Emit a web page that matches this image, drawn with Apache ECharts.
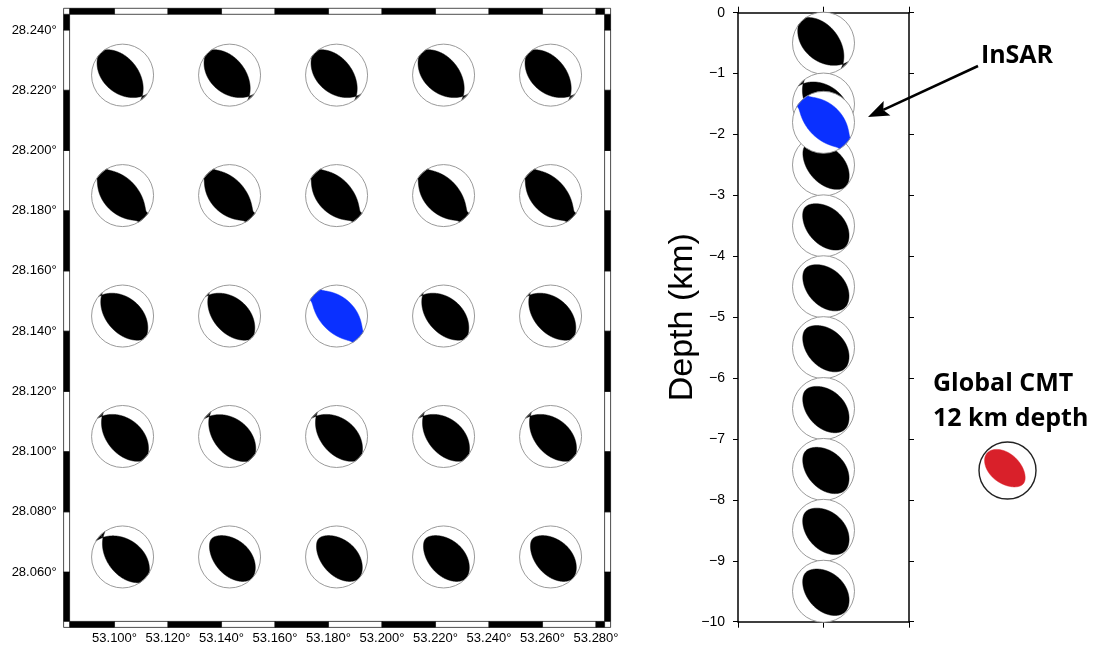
<!DOCTYPE html>
<html>
<head>
<meta charset="utf-8">
<script src="https://cdn.jsdelivr.net/npm/echarts@6/dist/echarts.min.js"></script>
<style>
html, body { margin: 0; padding: 0; background: #fff; }
#chart { width: 1096px; height: 647px; }
</style>
</head>
<body>
<div id="chart"></div>
<script>
// map panel: ticks and extent (degrees)
var lonTicks = [53.10, 53.12, 53.14, 53.16, 53.18, 53.20, 53.22, 53.24, 53.26, 53.28];
var latTicks = [28.06, 28.08, 28.10, 28.12, 28.14, 28.16, 28.18, 28.20, 28.22, 28.24];
var lonRange = [53.0832, 53.2832];
var latRange = [28.0436, 28.2452];

// grid search positions
var ballLons = [53.103, 53.143, 53.183, 53.223, 53.263];
var ballLats = [28.225, 28.185, 28.145, 28.105, 28.065];

// mechanism of every grid node (rows north -> south), given by its B (null) axis:
// trend, plunge, rotation of T/P about B, and the B and P eigenvalues (T = 1)
var mapTrend = [
    [137, 137, 137, 137, 137],
    [137, 137, 137, 137, 137],
    [315, 315, null, 315, 315],
    [315, 315, 315, 315, 315],
    [315, 315, 315, 315, 315]
];
var mapPlunge = [
    [8, 8, 8, 8, 8],
    [3, 3, 3, 3, 3],
    [5, 5, null, 5, 5],
    [8, 9, 8, 8, 8],
    [12, 9, 9, 9, 9]
];
var mapRot = [
    [4, 4, 4, 4, 4],
    [4, 4, 4, 4, 4],
    [4, 4, null, 4, 4],
    [4, 4, 4, 4, 4],
    [4, 4, 4, 4, 4]
];
var mapB = [
    [0, 0, 0, 0, 0],
    [-0.04, -0.04, -0.04, -0.04, -0.04],
    [0, 0, null, 0, 0],
    [0, 0, 0, 0, 0],
    [0, 0.03, 0.03, 0.03, 0.03]
];
var mapP = [
    [0.88, 0.88, 0.88, 0.88, 0.88],
    [0.88, 0.88, 0.88, 0.88, 0.88],
    [0.88, 0.88, null, 0.88, 0.88],
    [0.88, 0.88, 0.88, 0.88, 0.88],
    [0.88, 0.85, 0.85, 0.85, 0.85]
];

// depth profile (km)
var depths = [-0.5, -1.5, -2.5, -3.5, -4.5, -5.5, -6.5, -7.5, -8.5, -9.5];
var depthTrend = [137, 315, 315, 315, 315, 315, 315, 315, 315, 315];
var depthPlunge = [9, 8, 8, 7, 7, 7, 7, 7, 7, 7];
var depthRot = [4, 4, 4, 4, 4, 4, 4, 4, 4, 4];
var depthB = [0, 0, 0.02, 0.03, 0.04, 0.04, 0.04, 0.04, 0.04, 0.04];
var depthP = [0.88, 0.88, 0.85, 0.75, 0.72, 0.7, 0.7, 0.7, 0.68, 0.68];

// best InSAR solution (lon, lat, depth km) and Global CMT
var insarPos = [53.183, 28.145, -1.8];
var insarMech = [315, 1, 4, -0.06, 0.88];
var cmtMech = [130, 11, 0, 0.10, 1.15];

var R = 31;

function cross(a, b) {
    return [a[1] * b[2] - a[2] * b[1], a[2] * b[0] - a[0] * b[2], a[0] * b[1] - a[1] * b[0]];
}

// moment tensor in (north, east, down) built from principal axes
function tensor(m) {
    var d2r = Math.PI / 180;
    var f = m[0] * d2r, be = m[1] * d2r, psi = m[2] * d2r, b = m[3], p = m[4];
    var B = [Math.cos(be) * Math.cos(f), Math.cos(be) * Math.sin(f), Math.sin(be)];
    var ha = m[0] < 180 ? f + Math.PI / 2 : f - Math.PI / 2;
    var h = [Math.cos(ha), Math.sin(ha), 0];
    var T0 = cross(B, h);
    var T = [], P = [], M = [];
    for (var i = 0; i < 3; i++) {
        T[i] = Math.cos(psi) * T0[i] + Math.sin(psi) * h[i];
        P[i] = -Math.sin(psi) * T0[i] + Math.cos(psi) * h[i];
    }
    for (i = 0; i < 3; i++) {
        M[i] = [];
        for (var j = 0; j < 3; j++) {
            M[i][j] = T[i] * T[j] - b * B[i] * B[j] - p * P[i] * P[j];
        }
    }
    return M;
}

// polarity at lower hemisphere equal area point (r, az)
function pol(M, r, az) {
    var th = 2 * Math.asin(Math.min(1, r) / Math.SQRT2);
    var v = [Math.sin(th) * Math.cos(az), Math.sin(th) * Math.sin(az), Math.cos(th)];
    var s = 0;
    for (var i = 0; i < 3; i++) {
        for (var j = 0; j < 3; j++) s += v[i] * M[i][j] * v[j];
    }
    return s;
}

function mechShape(m) {
    var M = tensor(m), NA = 360, NR = 64;
    var main = [], extra = [];
    function xy(r, k) {
        var az = 2 * Math.PI * k / NA;
        return [r * Math.sin(az), -r * Math.cos(az)];
    }
    for (var k = 0; k < NA; k++) {
        var az = 2 * Math.PI * k / NA;
        var runs = [], inside = pol(M, 0, az) > 0, start = 0, r0 = 0;
        for (var j = 1; j <= NR; j++) {
            var r1 = j / NR, now = pol(M, r1, az) > 0;
            if (now !== inside) {
                var lo = r0, hi = r1;
                for (var it = 0; it < 20; it++) {
                    var mid = (lo + hi) / 2;
                    if ((pol(M, mid, az) > 0) === inside) lo = mid; else hi = mid;
                }
                var e = (lo + hi) / 2;
                if (now) start = e; else runs.push([start, e]);
                inside = now;
            }
            r0 = r1;
        }
        if (inside) runs.push([start, 1]);
        var first = runs.length && runs[0][0] === 0 ? runs.shift() : null;
        main.push(first ? first[1] : 0);
        extra.push(runs.length ? runs[0] : null);
    }
    var polys = [];
    if (main.some(function (v) { return v > 0; })) {
        polys.push(main.map(function (r, k) { return xy(r, k); }));
    }
    var k0 = extra.indexOf(null);
    if (k0 >= 0) {
        var cur = null;
        for (var i = 1; i <= NA; i++) {
            var kk = (k0 + i) % NA;
            if (extra[kk]) {
                if (!cur) cur = [];
                cur.push(kk);
            } else if (cur) {
                var outer = cur.map(function (c) { return xy(extra[c][1], c); });
                var inner = cur.slice().reverse().map(function (c) { return xy(extra[c][0], c); });
                polys.push(outer.concat(inner));
                cur = null;
            }
        }
    }
    return polys;
}

function ballSeries(xi, yi, points, shapes, color, rad, ring, ringW) {
    return {
        type: 'custom',
        coordinateSystem: 'cartesian2d',
        xAxisIndex: xi,
        yAxisIndex: yi,
        clip: false,
        silent: true,
        data: points,
        renderItem: function (params, api) {
            var c = api.coord([api.value(0), api.value(1)]);
            var kids = [{
                type: 'circle',
                shape: { cx: c[0], cy: c[1], r: rad },
                style: { fill: '#fff' }
            }];
            shapes[params.dataIndex].forEach(function (poly) {
                kids.push({
                    type: 'polygon',
                    shape: { points: poly.map(function (p) { return [c[0] + rad * p[0], c[1] + rad * p[1]]; }) },
                    style: { fill: color, stroke: color, lineWidth: 0.5 }
                });
            });
            kids.push({
                type: 'circle',
                shape: { cx: c[0], cy: c[1], r: rad },
                style: { fill: 'none', stroke: ring, lineWidth: ringW }
            });
            return { type: 'group', children: kids };
        }
    };
}

// map balls
var mapPts = [], mapShapes = [];
for (var i = 0; i < 5; i++) {
    for (var j = 0; j < 5; j++) {
        if (mapTrend[i][j] === null) continue;
        mapPts.push([ballLons[j], ballLats[i]]);
        mapShapes.push(mechShape([mapTrend[i][j], mapPlunge[i][j], mapRot[i][j], mapB[i][j], mapP[i][j]]));
    }
}
var depthPts = [], depthShapes = [];
for (i = 0; i < depths.length; i++) {
    depthPts.push([1, depths[i]]);
    depthShapes.push(mechShape([depthTrend[i], depthPlunge[i], depthRot[i], depthB[i], depthP[i]]));
}
var insarShape = [mechShape(insarMech)];
var cmtShape = [mechShape(cmtMech)];

// fancy frame segments: [from, to, black, side]
var BAND = 6;
var bandData = [];
var lonBreaks = [lonRange[0]].concat(lonTicks, [lonRange[1]]);
var latBreaks = [latRange[0]].concat(latTicks, [latRange[1]]);
for (i = 0; i < lonBreaks.length - 1; i++) {
    bandData.push([lonBreaks[i], lonBreaks[i + 1], i % 2 === 0 ? 1 : 0, 0]);
    bandData.push([lonBreaks[i], lonBreaks[i + 1], i % 2 === 0 ? 1 : 0, 1]);
}
for (i = 0; i < latBreaks.length - 1; i++) {
    bandData.push([latBreaks[i], latBreaks[i + 1], i % 2 === 0 ? 1 : 0, 2]);
    bandData.push([latBreaks[i], latBreaks[i + 1], i % 2 === 0 ? 1 : 0, 3]);
}
for (i = 0; i < 4; i++) bandData.push([i, i, 0, 4]);

var chart = echarts.init(document.getElementById('chart'), null, { renderer: 'canvas' });

var labelFont = '"Liberation Sans", Arial, Helvetica, sans-serif';
var noteFont = '"Open Sans", "Noto Sans", sans-serif';

// arrow towards the InSAR ball
var tail = [978, 66], tip = [868, 117];
var dx = tip[0] - tail[0], dy = tip[1] - tail[1], len = Math.sqrt(dx * dx + dy * dy);
var ux = dx / len, uy = dy / len, HL = 21, HW = 8;
var base = [tip[0] - ux * HL, tip[1] - uy * HL];
var notch = [tip[0] - ux * HL * 0.8, tip[1] - uy * HL * 0.8];

var frameAxis = {
    axisLine: { show: true, onZero: false, lineStyle: { color: '#000', width: 1.5 } },
    axisTick: { show: true, length: 6, lineStyle: { color: '#000', width: 1 } },
    axisLabel: { show: false },
    splitLine: { show: false }
};

var option = {
    animation: false,
    backgroundColor: '#fff',
    grid: [
        { left: 69.6, top: 14.3, width: 535, height: 607.1, containLabel: false, outerBoundsMode: 'none' },
        { left: 738, top: 12.7, width: 171, height: 609, containLabel: false, outerBoundsMode: 'none' },
        { left: 977.5, top: 440.5, width: 60, height: 60, containLabel: false, outerBoundsMode: 'none' }
    ],
    xAxis: [
        {
            type: 'value', gridIndex: 0, position: 'bottom', min: lonRange[0], max: lonRange[1],
            axisLine: { show: false }, axisTick: { show: false }, splitLine: { show: false },
            axisLabel: {
                customValues: lonTicks, margin: 11, color: '#000', fontSize: 13, fontFamily: labelFont,
                formatter: function (v) { return v.toFixed(3) + '°'; }
            }
        },
        Object.assign({ type: 'value', gridIndex: 1, position: 'bottom', min: 0, max: 2, interval: 1 }, frameAxis),
        Object.assign({ type: 'value', gridIndex: 1, position: 'top', min: 0, max: 2, interval: 1 }, frameAxis),
        { type: 'value', gridIndex: 2, min: -1, max: 1, show: false }
    ],
    yAxis: [
        {
            type: 'value', gridIndex: 0, position: 'left', min: latRange[0], max: latRange[1],
            axisLine: { show: false }, axisTick: { show: false }, splitLine: { show: false },
            axisLabel: {
                customValues: latTicks, margin: 13, color: '#000', fontSize: 13, fontFamily: labelFont,
                formatter: function (v) { return v.toFixed(3) + '°'; }
            }
        },
        {
            type: 'value', gridIndex: 1, position: 'left', min: -10, max: 0, interval: 1,
            name: 'Depth (km)', nameLocation: 'middle', nameRotate: 90, nameGap: 38,
            nameMoveOverlap: false,
            nameTextStyle: { color: '#000', fontSize: 34, fontFamily: labelFont },
            axisLine: { show: true, onZero: false, lineStyle: { color: '#000', width: 1.5 } },
            axisTick: { show: true, length: 5, lineStyle: { color: '#000', width: 1 } },
            splitLine: { show: false },
            axisLabel: {
                margin: 13, color: '#000', fontSize: 14, fontFamily: labelFont,
                formatter: function (v) { return v === 0 ? '0' : '\u2212' + Math.abs(v); }
            }
        },
        Object.assign({ type: 'value', gridIndex: 1, position: 'right', min: -10, max: 0, interval: 1 }, frameAxis, {
            axisTick: { show: true, length: 5, lineStyle: { color: '#000', width: 1 } }
        }),
        { type: 'value', gridIndex: 2, min: -1, max: 1, show: false }
    ],
    series: [
        {
            type: 'custom',
            coordinateSystem: 'cartesian2d',
            xAxisIndex: 0,
            yAxisIndex: 0,
            clip: false,
            silent: true,
            data: bandData,
            renderItem: function (params, api) {
                var v0 = api.value(0), v1 = api.value(1), black = api.value(2), side = api.value(3);
                var bl = api.coord([lonRange[0], latRange[0]]);
                var tr = api.coord([lonRange[1], latRange[1]]);
                var x, y, w, h, a, b;
                if (side === 4) {
                    x = v0 % 2 === 0 ? bl[0] - BAND : tr[0];
                    y = v0 < 2 ? tr[1] - BAND : bl[1];
                    w = BAND; h = BAND;
                } else if (side < 2) {
                    a = api.coord([v0, latRange[0]])[0];
                    b = api.coord([v1, latRange[0]])[0];
                    x = a; w = b - a;
                    y = side === 0 ? bl[1] : tr[1] - BAND; h = BAND;
                } else {
                    a = api.coord([lonRange[0], v0])[1];
                    b = api.coord([lonRange[0], v1])[1];
                    y = b; h = a - b;
                    x = side === 2 ? bl[0] - BAND : tr[0]; w = BAND;
                }
                return {
                    type: 'rect',
                    shape: { x: x, y: y, width: w, height: h },
                    style: { fill: black ? '#000' : '#fff', stroke: '#000', lineWidth: 0.7 }
                };
            }
        },
        ballSeries(0, 0, mapPts, mapShapes, '#000', R, '#8f8f8f', 0.9),
        ballSeries(0, 0, [[insarPos[0], insarPos[1]]], insarShape, '#0a30ff', R, '#8f8f8f', 0.9),
        ballSeries(1, 1, depthPts, depthShapes, '#000', R, '#8f8f8f', 0.9),
        ballSeries(1, 1, [[1, insarPos[2]]], insarShape, '#0a30ff', R, '#8f8f8f', 0.9),
        ballSeries(3, 3, [[0, 0]], cmtShape, '#d9202a', 28.5, '#222', 1.4)
    ],
    graphic: [
        {
            type: 'text', x: 1017, y: 56,
            style: { text: 'InSAR', fill: '#000', fontSize: 25, fontWeight: 'bold', fontFamily: noteFont, align: 'center', verticalAlign: 'middle' }
        },
        {
            type: 'text', x: 933, y: 384,
            style: { text: 'Global CMT', fill: '#000', fontSize: 25, fontWeight: 'bold', fontFamily: noteFont, align: 'left', verticalAlign: 'middle' }
        },
        {
            type: 'text', x: 933, y: 419,
            style: { text: '12 km depth', fill: '#000', fontSize: 25, fontWeight: 'bold', fontFamily: noteFont, align: 'left', verticalAlign: 'middle' }
        },
        {
            type: 'line',
            shape: { x1: tail[0], y1: tail[1], x2: notch[0], y2: notch[1] },
            style: { stroke: '#000', lineWidth: 2.5 }
        },
        {
            type: 'polygon',
            shape: {
                points: [tip,
                    [base[0] - uy * HW, base[1] + ux * HW],
                    notch,
                    [base[0] + uy * HW, base[1] - ux * HW]]
            },
            style: { fill: '#000' }
        }
    ]
};

chart.setOption(option);
</script>
</body>
</html>
